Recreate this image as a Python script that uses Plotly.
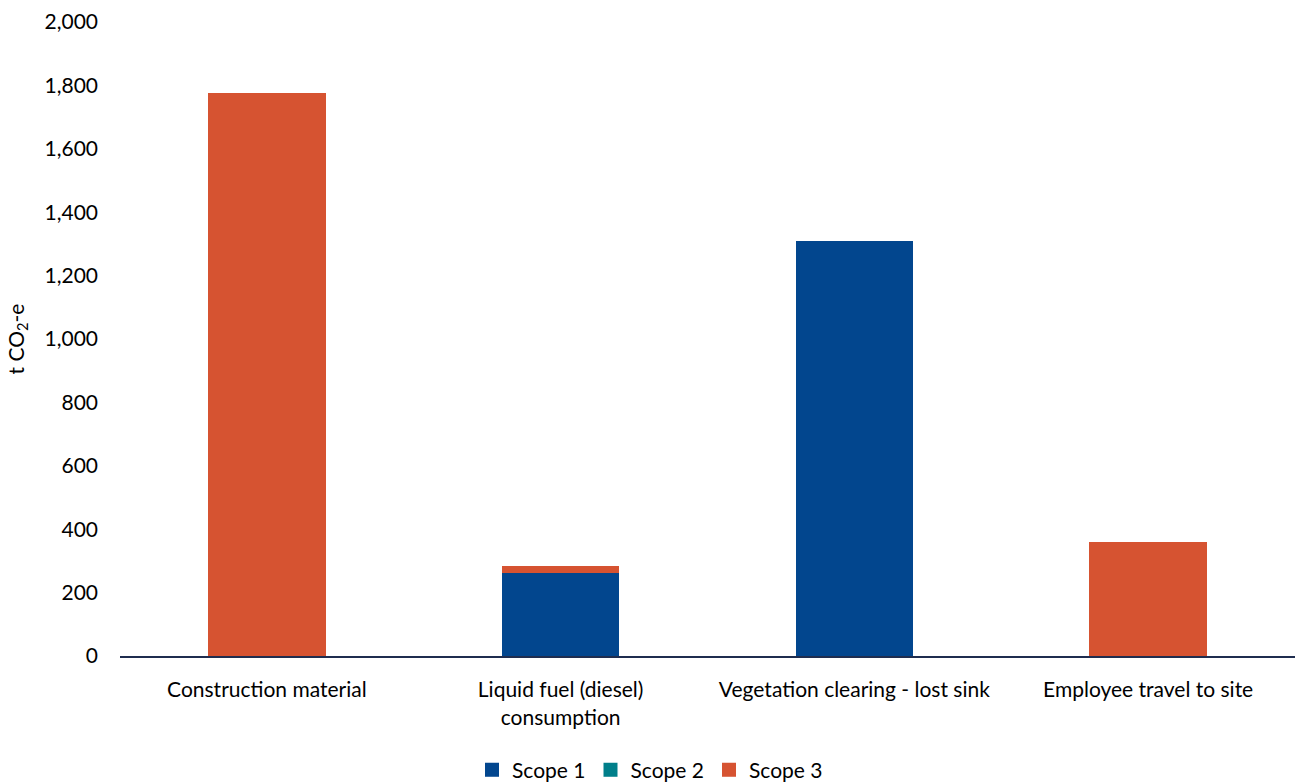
import plotly.graph_objects as go

categories = ["Construction material", "Liquid fuel (diesel)<br>consumption",
              "Vegetation clearing - lost sink", "Employee travel to site"]
scope1 = [0, 262, 1309, 0]
scope2 = [0, 0, 0, 0]
scope3 = [1776, 22, 0, 360]
tick_vals = [0, 200, 400, 600, 800, 1000, 1200, 1400, 1600, 1800, 2000]

colors = {"Scope 1": "#02468E", "Scope 2": "#007F8A", "Scope 3": "#D65331"}
font = "Lato, Calibri, sans-serif"

fig = go.Figure()
for name, vals in [("Scope 1", scope1), ("Scope 2", scope2), ("Scope 3", scope3)]:
    fig.add_trace(go.Bar(x=categories, y=vals, name=name, marker_color=colors[name],
                         marker_line_width=0, width=0.4, showlegend=False,
                         legendgroup=name))
for name in ["Scope 1", "Scope 2", "Scope 3"]:
    fig.add_trace(go.Scatter(x=[None], y=[None], mode="markers", name=name,
                             legendgroup=name,
                             marker=dict(symbol="square", size=14, color=colors[name])))

fig.update_layout(
    barmode="stack",
    width=1300, height=783,
    margin=dict(l=120, r=5, t=22, b=127, autoexpand=False),
    plot_bgcolor="white", paper_bgcolor="white",
    font=dict(family=font, size=21, color="#000000"),
    showlegend=True,
    legend=dict(orientation="h", xref="container", x=0.5, xanchor="center",
                y=-0.18, yanchor="middle",
                font=dict(size=21), traceorder="normal", itemwidth=30,
                tracegroupgap=0),
    xaxis=dict(showline=True, linecolor="#1F2D4F", linewidth=2, ticks="",
               showgrid=False, tickfont=dict(size=21), ticklabelstandoff=14),
    yaxis=dict(range=[0, 2000], tickvals=tick_vals, tickformat=",", showgrid=False,
               zeroline=False, showline=False, ticks="", tickfont=dict(size=21),
               ticklabelstandoff=21,
               title=dict(text="t CO<sub>2</sub>-e", font=dict(size=21), standoff=14)),
)

fig.write_html("out.html")
